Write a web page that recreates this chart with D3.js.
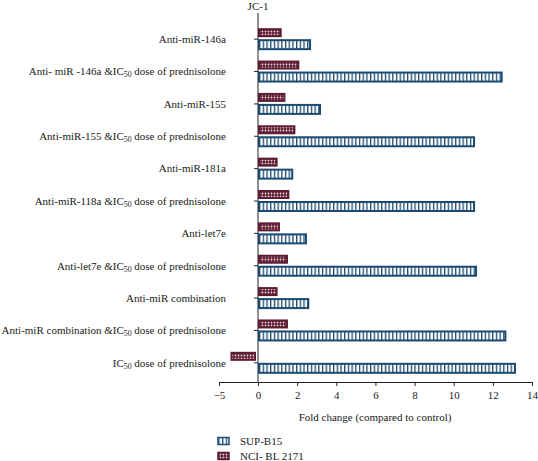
<!DOCTYPE html>
<html><head><meta charset="utf-8">
<script src="https://cdn.jsdelivr.net/npm/d3@7"></script>
<style>body{margin:0;background:#fff}svg{display:block}text{font-family:"Liberation Serif","DejaVu Serif",serif;fill:#1a1a1a}</style>
</head><body>
<svg id="c" width="538" height="461"></svg>
<script>
const categories = [
  "Anti-miR-146a",
  "Anti- miR -146a &IC50 dose of prednisolone",
  "Anti-miR-155",
  "Anti-miR-155 &IC50 dose of prednisolone",
  "Anti-miR-181a",
  "Anti-miR-118a &IC50 dose of prednisolone",
  "Anti-let7e",
  "Anti-let7e &IC50 dose of prednisolone",
  "Anti-miR combination",
  "Anti-miR combination &IC50 dose of prednisolone",
  "IC50 dose of prednisolone"
];
const supB15 = [2.66, 12.45, 3.17, 11.04, 1.75, 11.04, 2.45, 11.14, 2.57, 12.64, 13.13];
const nciBL2171 = [1.16, 2.06, 1.35, 1.86, 0.95, 1.55, 1.07, 1.48, 0.95, 1.48, -3.4];
const xTicks = [-5, 0, 2, 4, 6, 8, 10, 12, 14];
const seriesNames = ["SUP-B15", "NCI- BL 2171"];
const xTitle = "Fold change (compared to control)";
const yTitle = "JC-1";

const BLUE = "#1b4a72", MAROON = "#5e1c33";
const svg = d3.select("#c");
const defs = svg.append("defs");
const ps = defs.append("pattern").attr("id","stripes").attr("patternUnits","userSpaceOnUse")
  .attr("width",3.7).attr("height",20);
ps.append("rect").attr("width",3.7).attr("height",20).attr("fill","#fff");
ps.append("rect").attr("x",0).attr("width",1.3).attr("height",20).attr("fill",BLUE);
const pc = defs.append("pattern").attr("id","checks").attr("patternUnits","userSpaceOnUse")
  .attr("width",3).attr("height",3);
pc.append("rect").attr("width",3).attr("height",3).attr("fill",MAROON);
pc.append("circle").attr("cx",1.5).attr("cy",1.5).attr("r",0.9).attr("fill","#e8d8dd");

const x = d3.scaleLinear().domain([-5, 0, 14]).range([219, 258, 532]);
const y = d3.scaleBand().domain(categories).range([23, 379]);
const axisY = 382;

svg.append("line").attr("x1",x(0)).attr("x2",x(0)).attr("y1",13).attr("y2",axisY)
  .attr("stroke","#222").attr("stroke-width",1);
categories.forEach(c=>{
  const cy = y(c)+y.bandwidth()/2;
  svg.append("line").attr("x1",x(0)-4).attr("x2",x(0)).attr("y1",cy).attr("y2",cy).attr("stroke","#222");
});
const xa = svg.append("g").attr("transform",`translate(0,${axisY})`)
  .call(d3.axisBottom(x).tickValues(xTicks).tickSize(4).tickSizeOuter(0).tickFormat(d=>d<0?"\u2212"+Math.abs(d):d));
xa.select(".domain").attr("stroke","#222");
xa.selectAll(".tick line").attr("stroke","#222");
xa.selectAll("text").attr("font-family","Liberation Serif").attr("font-size",11).attr("fill","#1a1a1a").attr("dy","0.9em");

categories.forEach((c,i)=>{
  const cy = y(c)+y.bandwidth()/2;
  const v2 = nciBL2171[i];
  const x0 = Math.min(x(0), x(v2)), x1 = Math.max(x(0), x(v2));
  svg.append("rect").attr("x",x0+(v2<0?0:1)).attr("y",cy-10).attr("width",Math.max(0,x1-x0-(v2<0?3:1))).attr("height",7)
    .attr("fill","url(#checks)").attr("stroke",MAROON).attr("stroke-width",2);
  const v1 = supB15[i];
  svg.append("rect").attr("x",x(0)+1).attr("y",cy+1).attr("width",x(v1)-x(0)-1).attr("height",9)
    .attr("fill","url(#stripes)").attr("stroke",BLUE).attr("stroke-width",2);
});

function label(sel, s){
  const parts = s.split("IC50");
  let shifted = false;
  parts.forEach((p,k)=>{
    if(p){ const t = sel.append("tspan").text(p); if(shifted){ t.attr("dy",-2); shifted=false; } }
    if(k<parts.length-1){
      sel.append("tspan").text("IC");
      sel.append("tspan").text("50").attr("font-size",7.8).attr("dy",2);
      shifted = true;
    }
  });
}
categories.forEach(c=>{
  const cy = y(c)+y.bandwidth()/2;
  const t = svg.append("text").attr("x",226).attr("y",cy).attr("dy","0.35em")
    .attr("text-anchor","end").attr("font-size",11);
  label(t,c);
});

svg.append("text").attr("x",x(0)).attr("y",6).attr("dy","0.35em").attr("text-anchor","middle")
  .attr("font-size",11).text(yTitle);
svg.append("text").attr("x",375).attr("y",417).attr("dy","0.35em").attr("text-anchor","middle")
  .attr("font-size",11).text(xTitle);

const lg = [{n:seriesNames[0],f:"url(#stripes)",s:BLUE,y:441},{n:seriesNames[1],f:"url(#checks)",s:MAROON,y:456}];
lg.forEach(d=>{
  svg.append("rect").attr("x",218).attr("y",d.y-3.5).attr("width",11).attr("height",7)
    .attr("fill",d.f).attr("stroke",d.s).attr("stroke-width",1.5);
  svg.append("text").attr("x",240).attr("y",d.y).attr("dy","0.35em").attr("font-size",11).text(d.n);
});
</script>
</body></html>
